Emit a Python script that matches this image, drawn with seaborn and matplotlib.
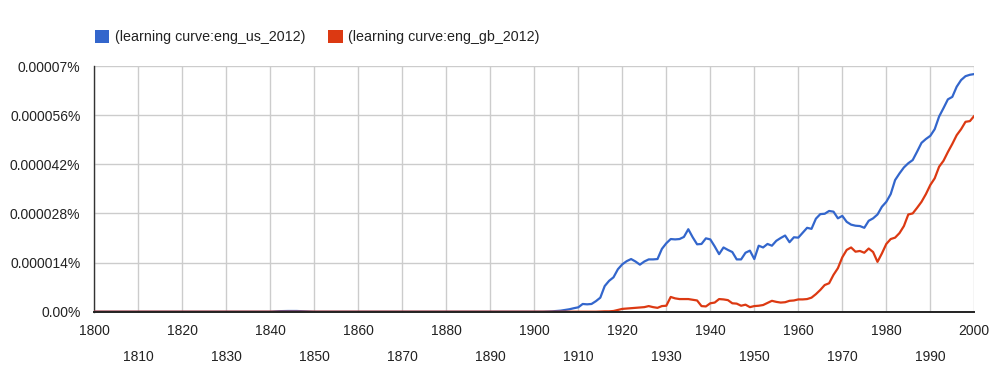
import numpy as np
import pandas as pd
import seaborn as sns
import matplotlib.pyplot as plt
from matplotlib.patches import Patch

# data, values in units of 0.000001 %
early_years = [1800, 1840, 1842, 1844, 1846, 1848, 1850, 1899]
us_early = [0, 0, 0.15, 0.2, 0.2, 0.1, 0, 0]
gb_early = [0, 0, 0, 0, 0, 0, 0, 0]

late_years = list(range(1900, 2001))
us_late = [
    0, 0, 0, 0.05, 0.1, 0.2, 0.3, 0.5, 0.7, 1.0,
    1.25, 2.2, 2.1, 2.2, 3.0, 4.0, 7.3, 8.8, 9.8, 12.1,
    13.5, 14.4, 15.0, 14.3, 13.4, 14.3, 14.9, 14.9, 15.0, 17.9,
    19.5, 20.7, 20.6, 20.7, 21.3, 23.5, 21.2, 19.2, 19.3, 20.9,
    20.6, 18.6, 16.4, 18.3, 17.6, 17.0, 14.9, 14.9, 16.8, 17.4,
    15.0, 18.8, 18.3, 19.3, 18.8, 20.2, 21.0, 21.7, 19.8, 21.2,
    21.1, 22.5, 23.9, 23.6, 26.5, 27.8, 27.9, 28.7, 28.5, 26.6,
    27.3, 25.6, 24.8, 24.5, 24.4, 23.9, 25.9, 26.6, 27.7, 29.9,
    31.3, 33.5, 37.5, 39.4, 41.1, 42.3, 43.2, 45.6, 48.1, 49.2,
    50.1, 52.0, 55.6, 58.0, 60.5, 61.2, 64.1, 66.0, 67.1, 67.5,
    67.7,
]
gb_late = [
    0, 0, 0, 0, 0, 0, 0, 0, 0, 0,
    0, 0, 0, 0, 0, 0.05, 0.1, 0.1, 0.2, 0.5,
    0.8, 0.9, 1.0, 1.1, 1.2, 1.3, 1.6, 1.3, 1.1, 1.6,
    1.7, 4.2, 3.8, 3.6, 3.6, 3.6, 3.4, 3.2, 1.6, 1.5,
    2.4, 2.6, 3.6, 3.5, 3.3, 2.4, 2.3, 1.7, 2.0, 1.3,
    1.6, 1.7, 1.9, 2.5, 3.1, 2.8, 2.6, 2.7, 3.1, 3.2,
    3.5, 3.5, 3.6, 4.0, 5.0, 6.2, 7.6, 8.1, 10.5, 12.4,
    15.5, 17.6, 18.3, 17.1, 17.3, 16.8, 18.0, 17.0, 14.2, 16.6,
    19.3, 20.7, 21.1, 22.4, 24.4, 27.7, 28.0, 29.6, 31.3, 33.5,
    36.1, 38.0, 41.3, 43.0, 45.5, 47.8, 50.3, 52.0, 54.1, 54.3,
    55.8,
]

labels = ['(learning curve:eng_us_2012)', '(learning curve:eng_gb_2012)']
colors = ['#3366cc', '#dc3912']
ytick_labels = ['0.00%', '0.000014%', '0.000028%', '0.000042%', '0.000056%', '0.00007%']

years = early_years + late_years
df = pd.concat([
    pd.DataFrame({'year': years, 'value': us_early + us_late, 'series': labels[0]}),
    pd.DataFrame({'year': years, 'value': gb_early + gb_late, 'series': labels[1]}),
])

sns.set_theme(style='white')
plt.rcParams['font.family'] = ['Liberation Sans', 'DejaVu Sans']

fig = plt.figure(figsize=(10.04, 3.70), dpi=100)
ax = fig.add_axes([94.3 / 1004, 1 - 311.7 / 370, 880 / 1004, 245.7 / 370])

sns.lineplot(data=df, x='year', y='value', hue='series', palette=colors,
             linewidth=1.6, legend=False, ax=ax, zorder=3)

ax.set_xlim(1800, 2000)
ax.set_ylim(0, 70)
ax.set_yticks(np.arange(0, 71, 14))
ax.set_yticklabels(ytick_labels)
ax.set_xticks(np.arange(1800, 2001, 20))
ax.set_xticks(np.arange(1810, 2000, 20), minor=True)
ax.set_xticklabels([str(y) for y in range(1800, 2001, 20)])
ax.set_xticklabels([str(y) for y in range(1810, 2000, 20)], minor=True)

ax.grid(True, which='both', axis='x', color='#cccccc', linewidth=1)
ax.grid(True, which='major', axis='y', color='#cccccc', linewidth=1)
ax.set_axisbelow(True)
ax.tick_params(axis='x', which='major', length=0, pad=8.5, labelsize=10, colors='#222222')
ax.tick_params(axis='x', which='minor', length=0, pad=27.5, labelsize=10, colors='#222222')
ax.tick_params(axis='y', length=0, pad=10, labelsize=10, colors='#222222')
ax.set_xlabel('')
ax.set_ylabel('')

for side in ['top', 'right']:
    ax.spines[side].set_visible(False)
ax.spines['left'].set_color('#333333')
ax.spines['left'].set_linewidth(1)
ax.spines['bottom'].set_color('#222222')
ax.spines['bottom'].set_linewidth(1.4)
ax.spines['bottom'].set_zorder(4)

handles = [Patch(facecolor=c, edgecolor='none') for c in colors]
fig.legend(handles, labels, loc='center left', bbox_to_anchor=(82 / 1004, 1 - 37 / 370),
           ncol=2, frameon=False, fontsize=10.3, handlelength=1.0, handleheight=1.0,
           handletextpad=0.4, columnspacing=1.6, labelcolor='#222222')

fig.savefig('out.png', dpi=100)
